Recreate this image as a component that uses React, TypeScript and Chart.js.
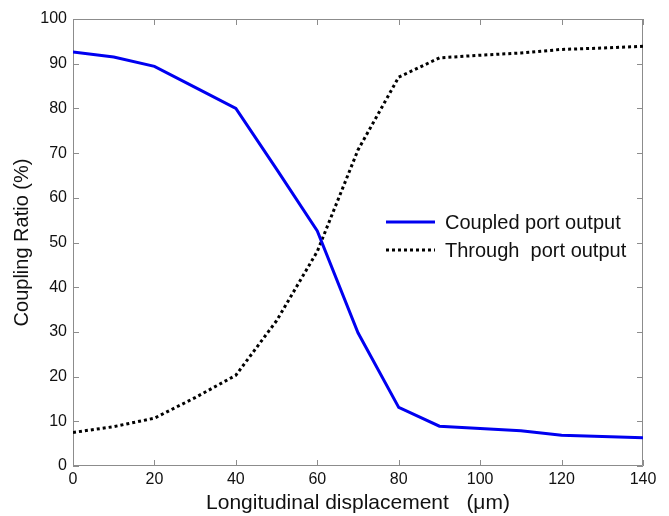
import React, { useEffect, useRef } from "react";
import { Chart, registerables } from "chart.js";

Chart.register(...registerables);

const displacement = [0, 10, 20, 30, 40, 50, 60, 70, 80, 90, 100, 110, 120, 130, 140];
const coupledPort = [92.6, 91.5, 89.4, 84.7, 80.0, 66.4, 52.6, 29.8, 13.1, 8.9, 8.4, 7.9, 6.9, 6.6, 6.3];
const throughPort = [7.5, 8.8, 10.7, 15.3, 20.3, 32.5, 48.0, 70.7, 87.0, 91.3, 91.9, 92.4, 93.2, 93.5, 93.9];
const xTicks = [0, 20, 40, 60, 80, 100, 120, 140];
const yTicks = [0, 10, 20, 30, 40, 50, 60, 70, 80, 90, 100];
const seriesNames = ["Coupled port output", "Through  port output"];

const FONT = "'Liberation Sans', Arial, sans-serif";
const AXIS_GRAY = "#8c8c8c";

const boxPlugin = {
  id: "boxTicks",
  beforeDatasetsDraw(chart: any) {
    const { ctx, chartArea } = chart;
    const { left, right, top, bottom } = chartArea;
    const xs = chart.scales.x;
    const ys = chart.scales.y;
    ctx.save();
    ctx.strokeStyle = AXIS_GRAY;
    ctx.lineWidth = 1;
    ctx.beginPath();
    ctx.rect(left + 0.5, top + 0.5, right - left - 1, bottom - top - 1);
    ctx.stroke();
    const L = 6;
    ctx.beginPath();
    xTicks.forEach((v) => {
      const px = Math.round(xs.getPixelForValue(v)) + 0.5;
      ctx.moveTo(px, bottom);
      ctx.lineTo(px, bottom - L);
      ctx.moveTo(px, top);
      ctx.lineTo(px, top + L);
    });
    yTicks.forEach((v) => {
      const py = Math.round(ys.getPixelForValue(v)) + 0.5;
      ctx.moveTo(left, py);
      ctx.lineTo(left + L, py);
      ctx.moveTo(right, py);
      ctx.lineTo(right - L, py);
    });
    ctx.stroke();
    ctx.restore();
  },
};

const legendPlugin = {
  id: "customLegend",
  afterDatasetsDraw(chart: any) {
    const { ctx } = chart;
    const x0 = 386;
    const x1 = 435;
    const tx = 445;
    const rows = [222, 250];
    ctx.save();
    ctx.font = `20px ${FONT}`;
    ctx.textBaseline = "middle";
    ctx.fillStyle = "#111";
    chart.data.datasets.forEach((ds: any, i: number) => {
      const y = rows[i];
      ctx.beginPath();
      ctx.strokeStyle = ds.borderColor;
      ctx.lineWidth = ds.borderWidth;
      ctx.setLineDash(ds.borderDash || []);
      ctx.moveTo(x0, y);
      ctx.lineTo(x1, y);
      ctx.stroke();
      ctx.setLineDash([]);
      ctx.fillText(ds.label, tx, y + 1);
    });
    ctx.restore();
  },
};

export default function App() {
  const ref = useRef<HTMLCanvasElement | null>(null);

  useEffect(() => {
    document.body.style.margin = "0";
    const canvas = ref.current;
    if (!canvas) return;
    const chart = new Chart(canvas, {
      type: "line",
      data: {
        datasets: [
          {
            label: seriesNames[0],
            data: displacement.map((x, i) => ({ x, y: coupledPort[i] })),
            borderColor: "#0000f0",
            borderWidth: 3,
            pointRadius: 0,
            fill: false,
            tension: 0,
          },
          {
            label: seriesNames[1],
            data: displacement.map((x, i) => ({ x, y: throughPort[i] })),
            borderColor: "#000000",
            borderWidth: 3,
            borderDash: [3, 3],
            pointRadius: 0,
            fill: false,
            tension: 0,
          },
        ],
      },
      options: {
        animation: false,
        responsive: true,
        maintainAspectRatio: false,
        layout: { padding: { top: 19, right: 26, left: 0, bottom: 0 } },
        plugins: { legend: { display: false }, tooltip: { enabled: false } },
        scales: {
          x: {
            type: "linear",
            min: 0,
            max: 140,
            afterBuildTicks: (s: any) => {
              s.ticks = xTicks.map((v) => ({ value: v }));
            },
            afterFit: (s: any) => {
              s.height = 50;
            },
            grid: { display: false, drawTicks: false },
            border: { display: false },
            ticks: {
              padding: 4,
              maxRotation: 0,
              autoSkip: false,
              color: "#111",
              font: { family: FONT, size: 16 },
            },
            title: {
              display: true,
              text: "Longitudinal displacement   (μm)",
              color: "#111",
              font: { family: FONT, size: 21 },
              padding: { top: 0, bottom: 0 },
            },
          },
          y: {
            type: "linear",
            min: 0,
            max: 100,
            afterBuildTicks: (s: any) => {
              s.ticks = yTicks.map((v) => ({ value: v }));
            },
            afterFit: (s: any) => {
              s.width = 73;
            },
            grid: { display: false, drawTicks: false },
            border: { display: false },
            ticks: {
              padding: 6,
              autoSkip: false,
              color: "#111",
              font: { family: FONT, size: 16 },
            },
            title: {
              display: true,
              text: "Coupling Ratio (%)",
              color: "#111",
              font: { family: FONT, size: 20 },
              padding: { top: 10, bottom: 0 },
            },
          },
        },
      },
      plugins: [boxPlugin, legendPlugin],
    });
    return () => chart.destroy();
  }, []);

  return (
    <div style={{ width: 669, height: 516, position: "relative" }}>
      <canvas ref={ref} />
    </div>
  );
}
